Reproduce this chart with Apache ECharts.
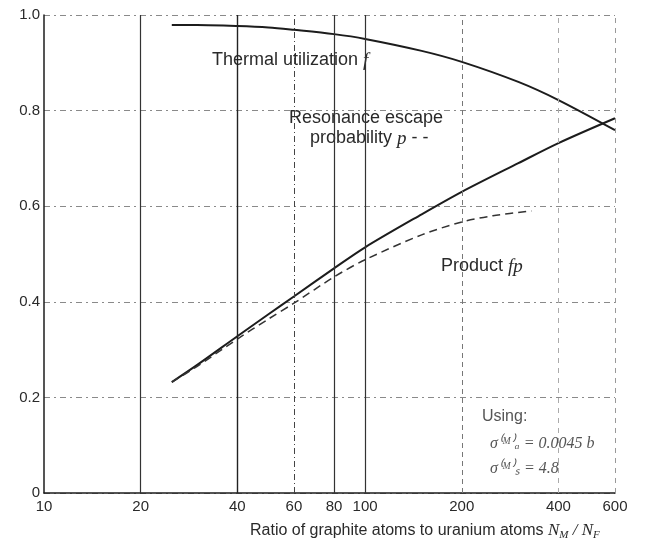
<!DOCTYPE html>
<html>
<head>
<meta charset="utf-8">
<script src="https://cdn.jsdelivr.net/npm/echarts@6/dist/echarts.min.js"></script>
<style>
  html, body { margin: 0; padding: 0; background: #fff; }
  #main { width: 645px; height: 546px; }
</style>
</head>
<body>
<div id="main"></div>
<script>
// ratio N_M/N_F values (log axis)
var xTicks = [10, 20, 40, 60, 80, 100, 200, 400, 600];
var yTicks = [0, 0.2, 0.4, 0.6, 0.8, 1.0];

// thermal utilization f
var fRatio = [25, 30, 40, 50, 60, 80, 100, 150, 200, 300, 400, 600];
var fValue = [0.979, 0.979, 0.977, 0.974, 0.969, 0.960, 0.950, 0.925, 0.902, 0.860, 0.822, 0.759];

// resonance escape probability p
var pRatio = [25, 30, 40, 50, 60, 80, 100, 150, 200, 300, 400, 600];
var pValue = [0.232, 0.268, 0.328, 0.374, 0.411, 0.470, 0.514, 0.583, 0.630, 0.690, 0.732, 0.784];

// product fp
var fpRatio = [25, 30, 40, 50, 60, 80, 100, 150, 200, 250, 330];
var fpValue = [0.232, 0.265, 0.322, 0.364, 0.397, 0.452, 0.488, 0.540, 0.567, 0.580, 0.590];

var ink = '#1c1c1c';
var txt = '#2a2a2a';
var font = '"Liberation Sans", Arial, sans-serif';

var pairs = function(xs, ys){
  var out = [];
  for (var i = 0; i < xs.length; i++) out.push([xs[i], ys[i]]);
  return out;
};

// vertical rules: some solid, some dashed like the scan
var vStyle = {
  20: {type: 'solid', color: '#333', width: 1.2},
  40: {type: 'solid', color: '#222', width: 1.4},
  60: {type: [6, 3, 1, 3], color: '#444', width: 1},
  80: {type: 'solid', color: '#333', width: 1.2},
  100: {type: 'solid', color: '#333', width: 1.2},
  200: {type: [5, 4], color: '#777', width: 1},
  400: {type: [5, 5], color: '#aaa', width: 1},
  600: {type: [5, 5], color: '#999', width: 1}
};
var vLines = [];
xTicks.forEach(function(v){
  if (vStyle[v]) vLines.push({xAxis: v, lineStyle: vStyle[v]});
});

var italic = {fontStyle: 'italic', fontFamily: 'Liberation Serif', fontSize: 19, fill: txt};

var chart = echarts.init(document.getElementById('main'));
chart.setOption({
  backgroundColor: '#fff',
  animation: false,
  grid: {left: 44, right: 30, top: 15, bottom: 53},
  xAxis: {
    type: 'log',
    logBase: 10,
    min: 10,
    max: 600,
    axisLine: {show: true, lineStyle: {color: ink, width: 1.5}},
    axisTick: {show: false},
    splitLine: {show: false},
    axisLabel: {
      customValues: xTicks,
      color: txt,
      fontFamily: font,
      fontSize: 15,
      margin: 6,
      formatter: function(v){ return String(Math.round(v)); }
    }
  },
  yAxis: {
    type: 'value',
    min: 0,
    max: 1,
    interval: 0.2,
    axisLine: {show: true, lineStyle: {color: ink, width: 1.5}},
    axisTick: {show: false},
    axisLabel: {
      color: txt,
      fontFamily: font,
      fontSize: 15,
      margin: 4,
      formatter: function(v){ return v === 0 ? '0' : v.toFixed(1); }
    },
    splitLine: {show: true, lineStyle: {color: '#8a8a8a', type: [6, 4, 2, 4], width: 1}}
  },
  series: [
    {
      name: 'f',
      type: 'line',
      smooth: 0.3,
      symbol: 'none',
      data: pairs(fRatio, fValue),
      lineStyle: {color: ink, width: 2},
      markLine: {
        silent: true,
        symbol: 'none',
        label: {show: false},
        data: vLines
      },
      z: 3
    },
    {
      name: 'p',
      type: 'line',
      smooth: 0.3,
      symbol: 'none',
      data: pairs(pRatio, pValue),
      lineStyle: {color: ink, width: 2},
      z: 3
    },
    {
      name: 'fp',
      type: 'line',
      smooth: 0.3,
      symbol: 'none',
      data: pairs(fpRatio, fpValue),
      lineStyle: {color: '#333', width: 1.5, type: [8, 5]},
      z: 3
    }
  ],
  graphic: [
    {type: 'text', left: 212, top: 51, style: {
      text: 'Thermal utilization {i|f}', fill: txt, font: '18px ' + font, rich: {i: italic}
    }},
    {type: 'text', left: 289, top: 109, style: {
      text: 'Resonance escape', fill: txt, font: '18px ' + font
    }},
    {type: 'text', left: 310, top: 129, style: {
      text: 'probability {i|p} - -', fill: txt, font: '18px ' + font, rich: {i: italic}
    }},
    {type: 'text', left: 441, top: 257, style: {
      text: 'Product {i|fp}', fill: txt, font: '18px ' + font, rich: {i: italic}
    }},
    {type: 'text', left: 482, top: 409, style: {
      text: 'Using:', fill: '#555', font: '16px ' + font
    }},
    {type: 'text', left: 490, top: 436, style: {
      text: 'σ⁽ᴹ⁾ₐ = 0.0045 b', fill: '#555', font: 'italic 16px "Liberation Serif", serif'
    }},
    {type: 'text', left: 490, top: 461, style: {
      text: 'σ⁽ᴹ⁾ₛ = 4.8', fill: '#555', font: 'italic 16px "Liberation Serif", serif'
    }},
    {type: 'text', left: 250, top: 522, style: {
      text: 'Ratio of graphite atoms to uranium atoms {i|N}{s|M}{i| / N}{s|F}',
      fill: txt, font: '16px ' + font,
      rich: {
        i: {fontStyle: 'italic', fontFamily: 'Liberation Serif', fontSize: 17, fill: txt, lineHeight: 21},
        s: {fontStyle: 'italic', fontFamily: 'Liberation Serif', fontSize: 11, fill: txt, verticalAlign: 'bottom', lineHeight: 21}
      }
    }}
  ]
});
</script>
</body>
</html>
